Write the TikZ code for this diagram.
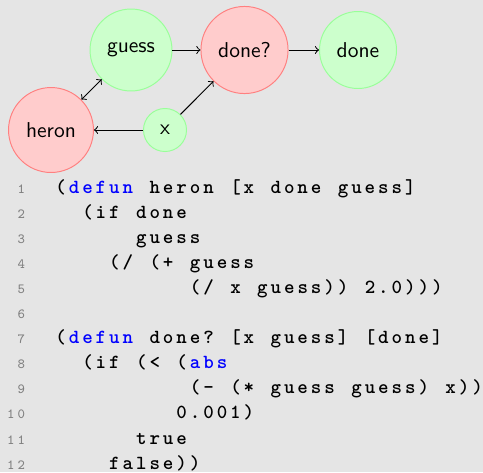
\documentclass[tikz,border=0pt]{standalone}
\usepackage{xcolor}
\newlength\codepitch
\setlength\codepitch{6.254pt}
\newlength\numpitch
\setlength\numpitch{4.9pt}
\ExplSyntaxOn
% set a word in fixed columns, one box per character
\NewDocumentCommand\monoline{m}{\str_map_inline:nn{#1}{\makebox[\codepitch][c]{##1}}}
\NewDocumentCommand\numline{m}{\exp_args:Ne \str_map_inline:nn{#1}{\makebox[\numpitch][c]{##1}}}
\ExplSyntaxOff
\tikzset{
  circ/.style={circle, draw, inner sep=0pt, font=\sffamily, line width=0.45pt},
  gnode/.style={circ, fill=green!20, draw=green!40},
  rnode/.style={circ, fill=red!20, draw=red!50},
  link/.style={->, black, line width=0.45pt},
  codeword/.style={anchor=base west, inner sep=0pt, font=\fontsize{9.3}{11}\ttfamily\bfseries},
  keyword/.style={codeword, text=blue},
  lineno/.style={anchor=base east, inner sep=0pt, text=black!50, font=\fontsize{6.5}{7}\ttfamily},
}
% \cw[style]{line}{column}{word}: one word of the listing at its grid cell
\newcommand\cw[4][codeword]{%
  \node[#1] (w-#2-#3) at ({53.5+#3*13.45}, {193+(#2-1)*25.1}) {\monoline{#4}};}
\begin{document}
\begin{tikzpicture}[x=0.465pt, y=-0.465pt]
  % canvas
  \fill[gray!20] (0,0) rectangle (483,472);
  \useasboundingbox (0,0) rectangle (483,472);

  % dataflow graph
  \node[gnode, minimum size=38.1pt] (guess) at (131,50) {guess};
  \node[rnode, minimum size=40.5pt] (donep) at (244.5,50) {done?};
  \node[gnode, minimum size=35.8pt] (done)  at (358,50) {done};
  \node[rnode, minimum size=39.5pt] (heron) at (51,130) {heron};
  \node[gnode, minimum size=20pt]   (x)     at (165,130) {x};

  \draw[link] (guess) -- (donep);
  \draw[link] (donep) -- (done);
  \draw[link] (x) -- (heron);
  \draw[link] (x) -- (donep);
  \draw[link, <->] (heron) -- (guess);

  % line numbers
  \foreach \n in {1,...,12}
    \node[lineno] (n\n) at (27, {193 + (\n-1)*25.1}) {\numline{\n}};

  % (defun heron [x done guess] ...)
  \cw{1}{0}{(} \cw[keyword]{1}{1}{defun} \cw{1}{7}{heron}
  \cw{1}{13}{[x} \cw{1}{16}{done} \cw{1}{21}{guess]}
  \cw{2}{2}{(if} \cw{2}{6}{done}
  \cw{3}{6}{guess}
  \cw{4}{4}{(/} \cw{4}{7}{(+} \cw{4}{10}{guess}
  \cw{5}{10}{(/} \cw{5}{13}{x} \cw{5}{15}{guess))} \cw{5}{23}{2.0)))}

  % (defun done? [x guess] [done] ...)
  \cw{7}{0}{(} \cw[keyword]{7}{1}{defun} \cw{7}{7}{done?}
  \cw{7}{13}{[x} \cw{7}{16}{guess]} \cw{7}{23}{[done]}
  \cw{8}{2}{(if} \cw{8}{6}{(<} \cw{8}{9}{(} \cw[keyword]{8}{10}{abs}
  \cw{9}{10}{(-} \cw{9}{13}{(*} \cw{9}{16}{guess} \cw{9}{22}{guess)} \cw{9}{29}{x))}
  \cw{10}{9}{0.001)}
  \cw{11}{6}{true}
  \cw{12}{4}{false))}
\end{tikzpicture}
\end{document}
